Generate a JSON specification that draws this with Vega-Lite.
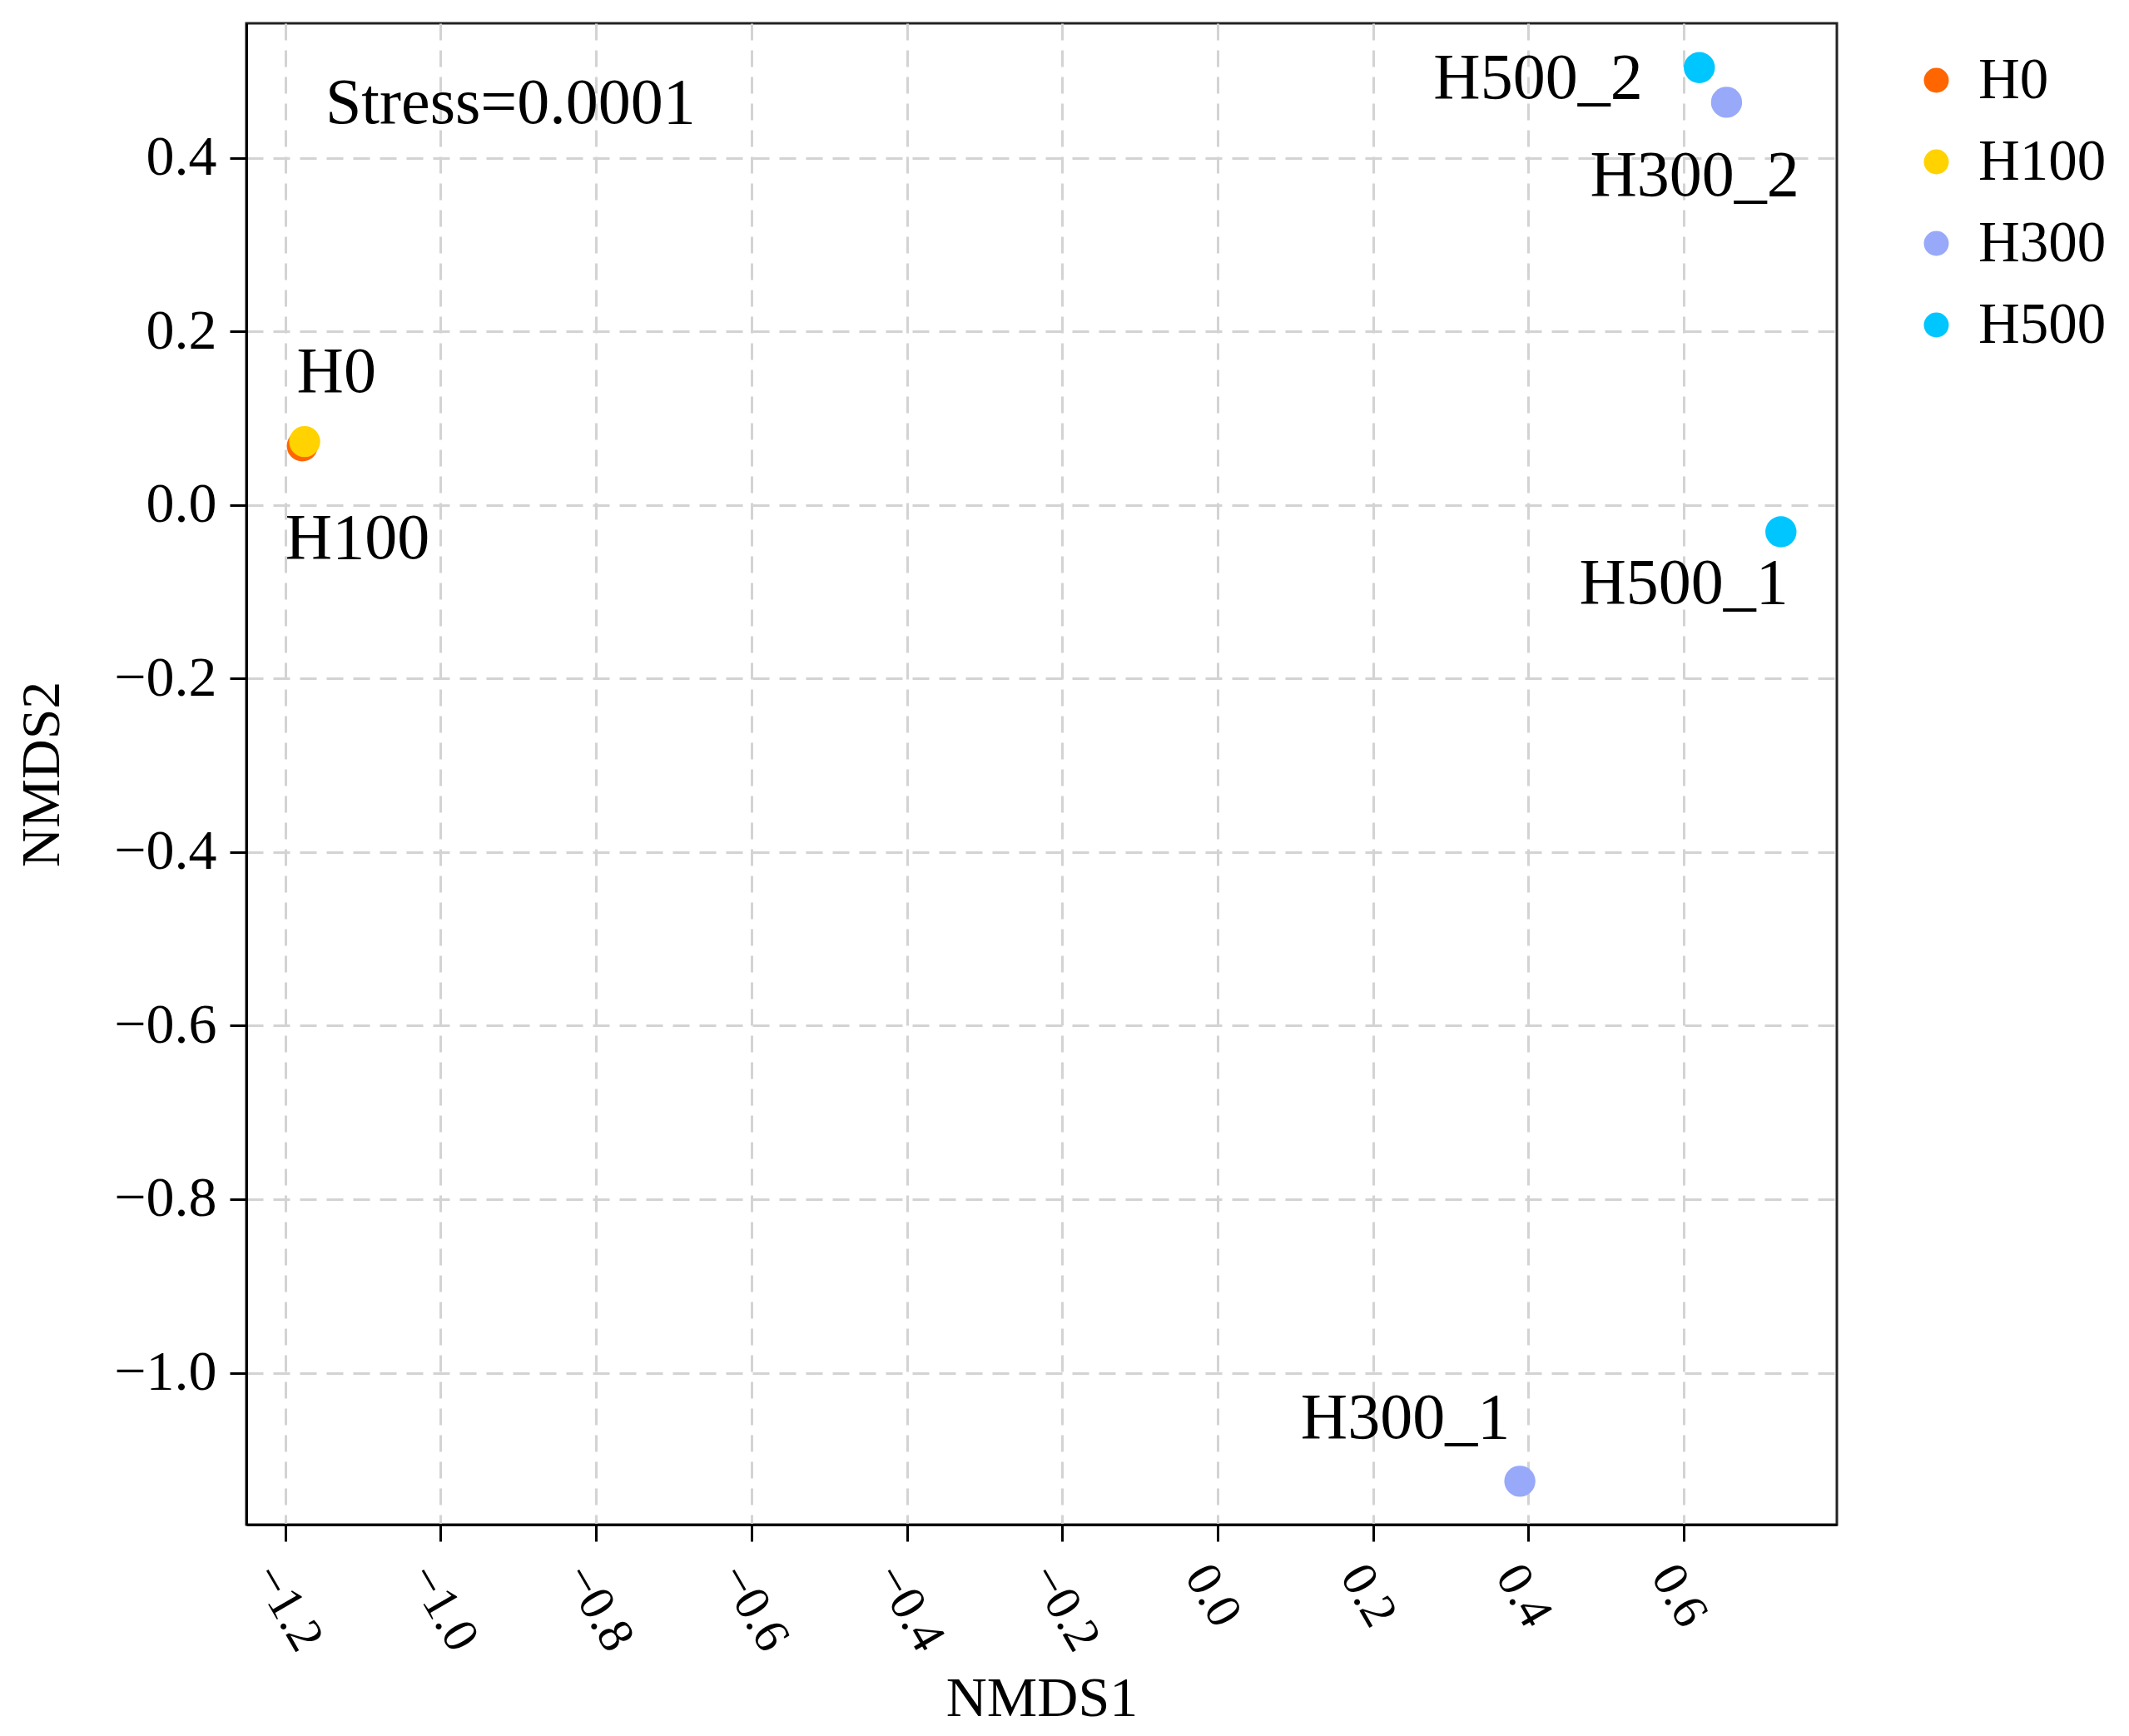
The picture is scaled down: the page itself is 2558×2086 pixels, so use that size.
{
  "$schema": "https://vega.github.io/schema/vega-lite/v6.json",
  "width": 1911,
  "height": 1804,
  "autosize": {"type": "none"},
  "padding": {"left": 296, "top": 28, "right": 351, "bottom": 254},
  "background": "white",
  "config": {
    "font": "Liberation Serif",
    "view": {"stroke": "#222222", "strokeWidth": 3},
    "axis": {
      "labelFont": "Liberation Serif",
      "titleFont": "Liberation Serif",
      "labelColor": "black",
      "titleColor": "black",
      "titleFontWeight": "normal",
      "domainColor": "black",
      "domainWidth": 3,
      "tickColor": "black",
      "tickWidth": 3,
      "tickSize": 20,
      "gridColor": "#d3d3d3",
      "gridDash": [20, 12],
      "gridWidth": 3
    },
    "legend": {
      "labelFont": "Liberation Serif",
      "labelColor": "black"
    }
  },
  "datasets": {
    "pts": [
      {"sample": "H0", "group": "H0", "NMDS1": -1.178, "NMDS2": 0.068},
      {"sample": "H100", "group": "H100", "NMDS1": -1.175, "NMDS2": 0.073},
      {"sample": "H300_1", "group": "H300", "NMDS1": 0.389, "NMDS2": -1.125},
      {"sample": "H300_2", "group": "H300", "NMDS1": 0.655, "NMDS2": 0.464},
      {"sample": "H500_1", "group": "H500", "NMDS1": 0.725, "NMDS2": -0.031},
      {"sample": "H500_2", "group": "H500", "NMDS1": 0.620, "NMDS2": 0.504}
    ],
    "labs": [
      {"label": "H0", "lx": -1.134, "ly": 0.152},
      {"label": "H100", "lx": -1.107, "ly": -0.040},
      {"label": "H300_1", "lx": 0.2416, "ly": -1.053},
      {"label": "H300_2", "lx": 0.614, "ly": 0.379},
      {"label": "H500_1", "lx": 0.600, "ly": -0.091},
      {"label": "H500_2", "lx": 0.4125, "ly": 0.491},
      {"label": "Stress=0.0001", "lx": -0.910, "ly": 0.4616}
    ]
  },
  "layer": [
    {
      "data": {"name": "pts"},
      "mark": {"type": "circle", "opacity": 1, "size": 1400},
      "encoding": {
        "x": {
          "field": "NMDS1",
          "type": "quantitative",
          "scale": {"domain": [-1.25, 0.797], "nice": false, "zero": false},
          "axis": {
            "title": "NMDS1",
            "values": [-1.2, -1.0, -0.8, -0.6, -0.4, -0.2, 0.0, 0.2, 0.4, 0.6],
            "format": ".1f",
            "labelAngle": 60,
            "labelAlign": "left",
            "labelBaseline": "top",
            "labelFontSize": 60,
            "labelPadding": 18,
            "titleFontSize": 68,
            "titlePadding": 14
          }
        },
        "y": {
          "field": "NMDS2",
          "type": "quantitative",
          "scale": {"domain": [-1.175, 0.555], "nice": false, "zero": false},
          "axis": {
            "title": "NMDS2",
            "values": [-1.0, -0.8, -0.6, -0.4, -0.2, 0.0, 0.2, 0.4],
            "format": ".1f",
            "labelFontSize": 68,
            "labelPadding": 16,
            "titleFontSize": 66,
            "titlePadding": 52
          }
        },
        "color": {
          "field": "group",
          "type": "nominal",
          "scale": {
            "domain": ["H0", "H100", "H300", "H500"],
            "range": ["#FF6600", "#FFD200", "#98A9FA", "#00C6FF"]
          },
          "legend": {
            "title": null,
            "orient": "none",
            "legendX": 1996,
            "legendY": 34,
            "padding": 0,
            "symbolType": "circle",
            "symbolSize": 900,
            "symbolStrokeWidth": 0,
            "labelFontSize": 69,
            "labelOffset": 16,
            "rowPadding": 28
          }
        }
      }
    },
    {
      "mark": {"type": "rule", "color": "#7a7a7a", "strokeWidth": 2},
      "encoding": {"x": {"datum": 0, "type": "quantitative"}}
    },
    {
      "mark": {"type": "rule", "color": "#7a7a7a", "strokeWidth": 2},
      "encoding": {"y": {"datum": 0, "type": "quantitative"}}
    },
    {
      "data": {"name": "labs"},
      "mark": {"type": "text", "font": "Liberation Serif", "fontSize": 78, "align": "center", "baseline": "middle", "color": "black"},
      "encoding": {
        "x": {"field": "lx", "type": "quantitative"},
        "y": {"field": "ly", "type": "quantitative"},
        "text": {"field": "label", "type": "nominal"}
      }
    }
  ]
}
